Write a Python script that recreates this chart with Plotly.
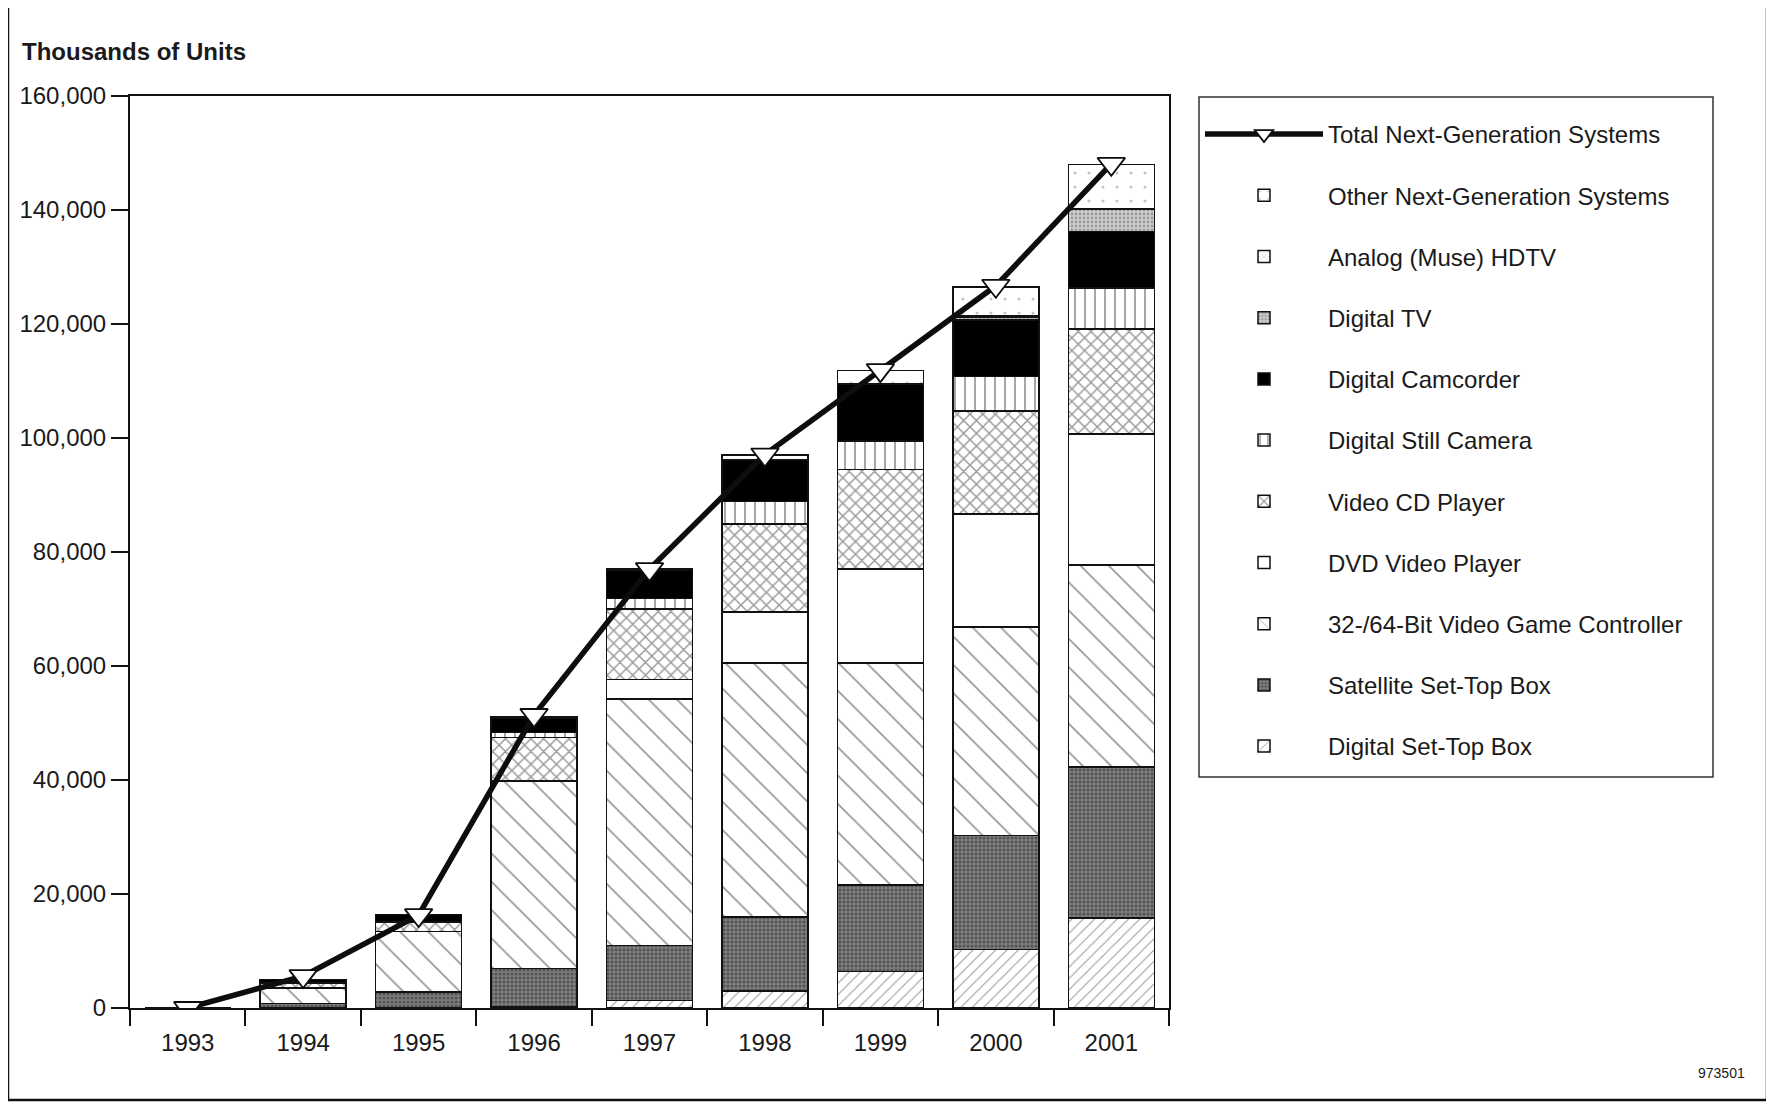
import plotly.graph_objects as go

years = ["1993", "1994", "1995", "1996", "1997", "1998", "1999", "2000", "2001"]

# Thousands of units (stacked from bottom)
digital_stb = [0, 0, 0, 300, 1300, 3000, 6400, 10300, 15800]
satellite_stb = [0, 800, 2800, 6600, 9700, 13000, 15200, 20000, 26500]
game_ctrl = [0, 2700, 10600, 32800, 43200, 44500, 38900, 36500, 35400]
dvd_player = [0, 0, 0, 200, 3400, 9000, 16500, 19900, 23000]
vcd_player = [0, 900, 1600, 7600, 12400, 15400, 17500, 18000, 18400]
still_camera = [0, 100, 200, 800, 1800, 4000, 5000, 6100, 7200]
camcorder = [0, 500, 1200, 2600, 5000, 7200, 9900, 9900, 9900]
digital_tv = [0, 0, 0, 0, 0, 0, 0, 500, 3900]
analog_hdtv = [0, 0, 0, 50, 100, 100, 100, 200, 200]
other_systems = [0, 0, 0, 200, 200, 800, 2300, 5100, 7700]
total_systems = [0, 5600, 16300, 51400, 77000, 97100, 111900, 126700, 148100]

FONT = "Liberation Sans, Arial, Helvetica, sans-serif"
TXT = "#1a1a1a"
FS = 24

series = [
    ("Digital Set-Top Box", digital_stb, dict(shape="/", fgcolor="#3a3a3a", bgcolor="white", size=8, solidity=0.14)),
    ("Satellite Set-Top Box", satellite_stb, dict(shape=".", fgcolor="#262626", bgcolor="#7e7e7e", size=4, solidity=0.45)),
    ("32-/64-Bit Video Game Controller", game_ctrl, dict(shape="\\", fgcolor="#2a2a2a", bgcolor="white", size=20, solidity=0.08)),
    ("DVD Video Player", dvd_player, dict(shape="", fgcolor="white", bgcolor="white")),
    ("Video CD Player", vcd_player, dict(shape="x", fgcolor="#333333", bgcolor="white", size=9, solidity=0.3)),
    ("Digital Still Camera", still_camera, dict(shape="|", fgcolor="#111111", bgcolor="white", size=10, solidity=0.15)),
    ("Digital Camcorder", camcorder, dict(shape="", fgcolor="black", bgcolor="black")),
    ("Digital TV", digital_tv, dict(shape=".", fgcolor="#666666", bgcolor="#cfcfcf", size=4, solidity=0.4)),
    ("Analog (Muse) HDTV", analog_hdtv, dict(shape="x", fgcolor="#333333", bgcolor="white", size=14, solidity=0.08)),
    ("Other Next-Generation Systems", other_systems, dict(shape=".", fgcolor="#888888", bgcolor="white", size=14, solidity=0.04)),
]

fig = go.Figure()
n = len(series)
for i, (name, vals, pat) in enumerate(series):
    pattern = dict(pat)
    fig.add_trace(go.Bar(
        x=years, y=vals, name=name, legendgroup=f"g{i}", legendrank=100 + (n - i),
        marker=dict(color=pattern["bgcolor"], line=dict(color="#111111", width=1.5),
                    pattern=pattern),
        width=0.745,
    ))

fig.add_trace(go.Scatter(
    x=years, y=total_systems, name="Total Next-Generation Systems", legendgroup="gtotal",
    legendrank=100,
    mode="lines+markers",
    line=dict(color="#0d0d0d", width=5.5),
    marker=dict(symbol="triangle-down", size=24, color="white", line=dict(color="#0d0d0d", width=1.8)),
))

# page body has an 8px margin: work in window coordinates and subtract it
OFF = 8
W, H = 1766, 1096
L = 130 - OFF
T = 96 - OFF
B = H - (1008 - OFF)
R = W - (1169 - OFF)
PW, PH = W - L - R, H - T - B


def px(x):
    return (x - OFF - L) / PW


def py(y):
    return (H - B - (y - OFF)) / PH


fig.update_layout(
    width=W, height=H,
    margin=dict(l=L, r=R, t=T, b=B),
    barmode="stack",
    plot_bgcolor="white", paper_bgcolor="white",
    font=dict(family=FONT, size=FS, color=TXT),
    showlegend=True,
    legend=dict(
        x=px(1200), y=py(112), xanchor="left", yanchor="top",
        traceorder="grouped", tracegroupgap=27,
        itemwidth=118, bgcolor="rgba(0,0,0,0)", borderwidth=0,
        font=dict(family=FONT, size=FS, color=TXT),
    ),
    xaxis=dict(
        type="category", range=[-0.5, 8.5], tickson="boundaries",
        ticks="outside", ticklen=16, tickwidth=1.5, tickcolor="#111",
        ticklabelstandoff=12,
        showline=True, linewidth=2, linecolor="#111", mirror=True,
        showgrid=False, tickfont=dict(size=FS, family=FONT, color=TXT),
    ),
    yaxis=dict(
        range=[0, 160000], dtick=20000, tickformat=",",
        ticks="outside", ticklen=17, tickwidth=1.5, tickcolor="#111",
        showline=True, linewidth=2, linecolor="#111", mirror=True,
        showgrid=False, zeroline=False, tickfont=dict(size=FS, family=FONT, color=TXT),
    ),
    shapes=[
        dict(type="rect", xref="paper", yref="paper",
             x0=px(8), x1=px(1767), y0=py(1100), y1=py(4),
             line=dict(color="#111", width=2.5), fillcolor="rgba(0,0,0,0)", layer="below"),
        dict(type="rect", xref="paper", yref="paper",
             x0=px(1199), x1=px(1713), y0=py(777), y1=py(97),
             line=dict(color="#333", width=1.5), fillcolor="rgba(0,0,0,0)", layer="below"),
    ],
    annotations=[
        dict(text="<b>Thousands of Units</b>", xref="paper", yref="paper",
             x=px(20), y=py(52), xanchor="left", yanchor="middle", showarrow=False,
             font=dict(family=FONT, size=FS, color=TXT)),
        dict(text="973501", xref="paper", yref="paper",
             x=px(1747), y=py(1073), xanchor="right", yanchor="middle", showarrow=False,
             font=dict(family=FONT, size=14, color=TXT)),
    ],
)

fig.write_html("out.html")
